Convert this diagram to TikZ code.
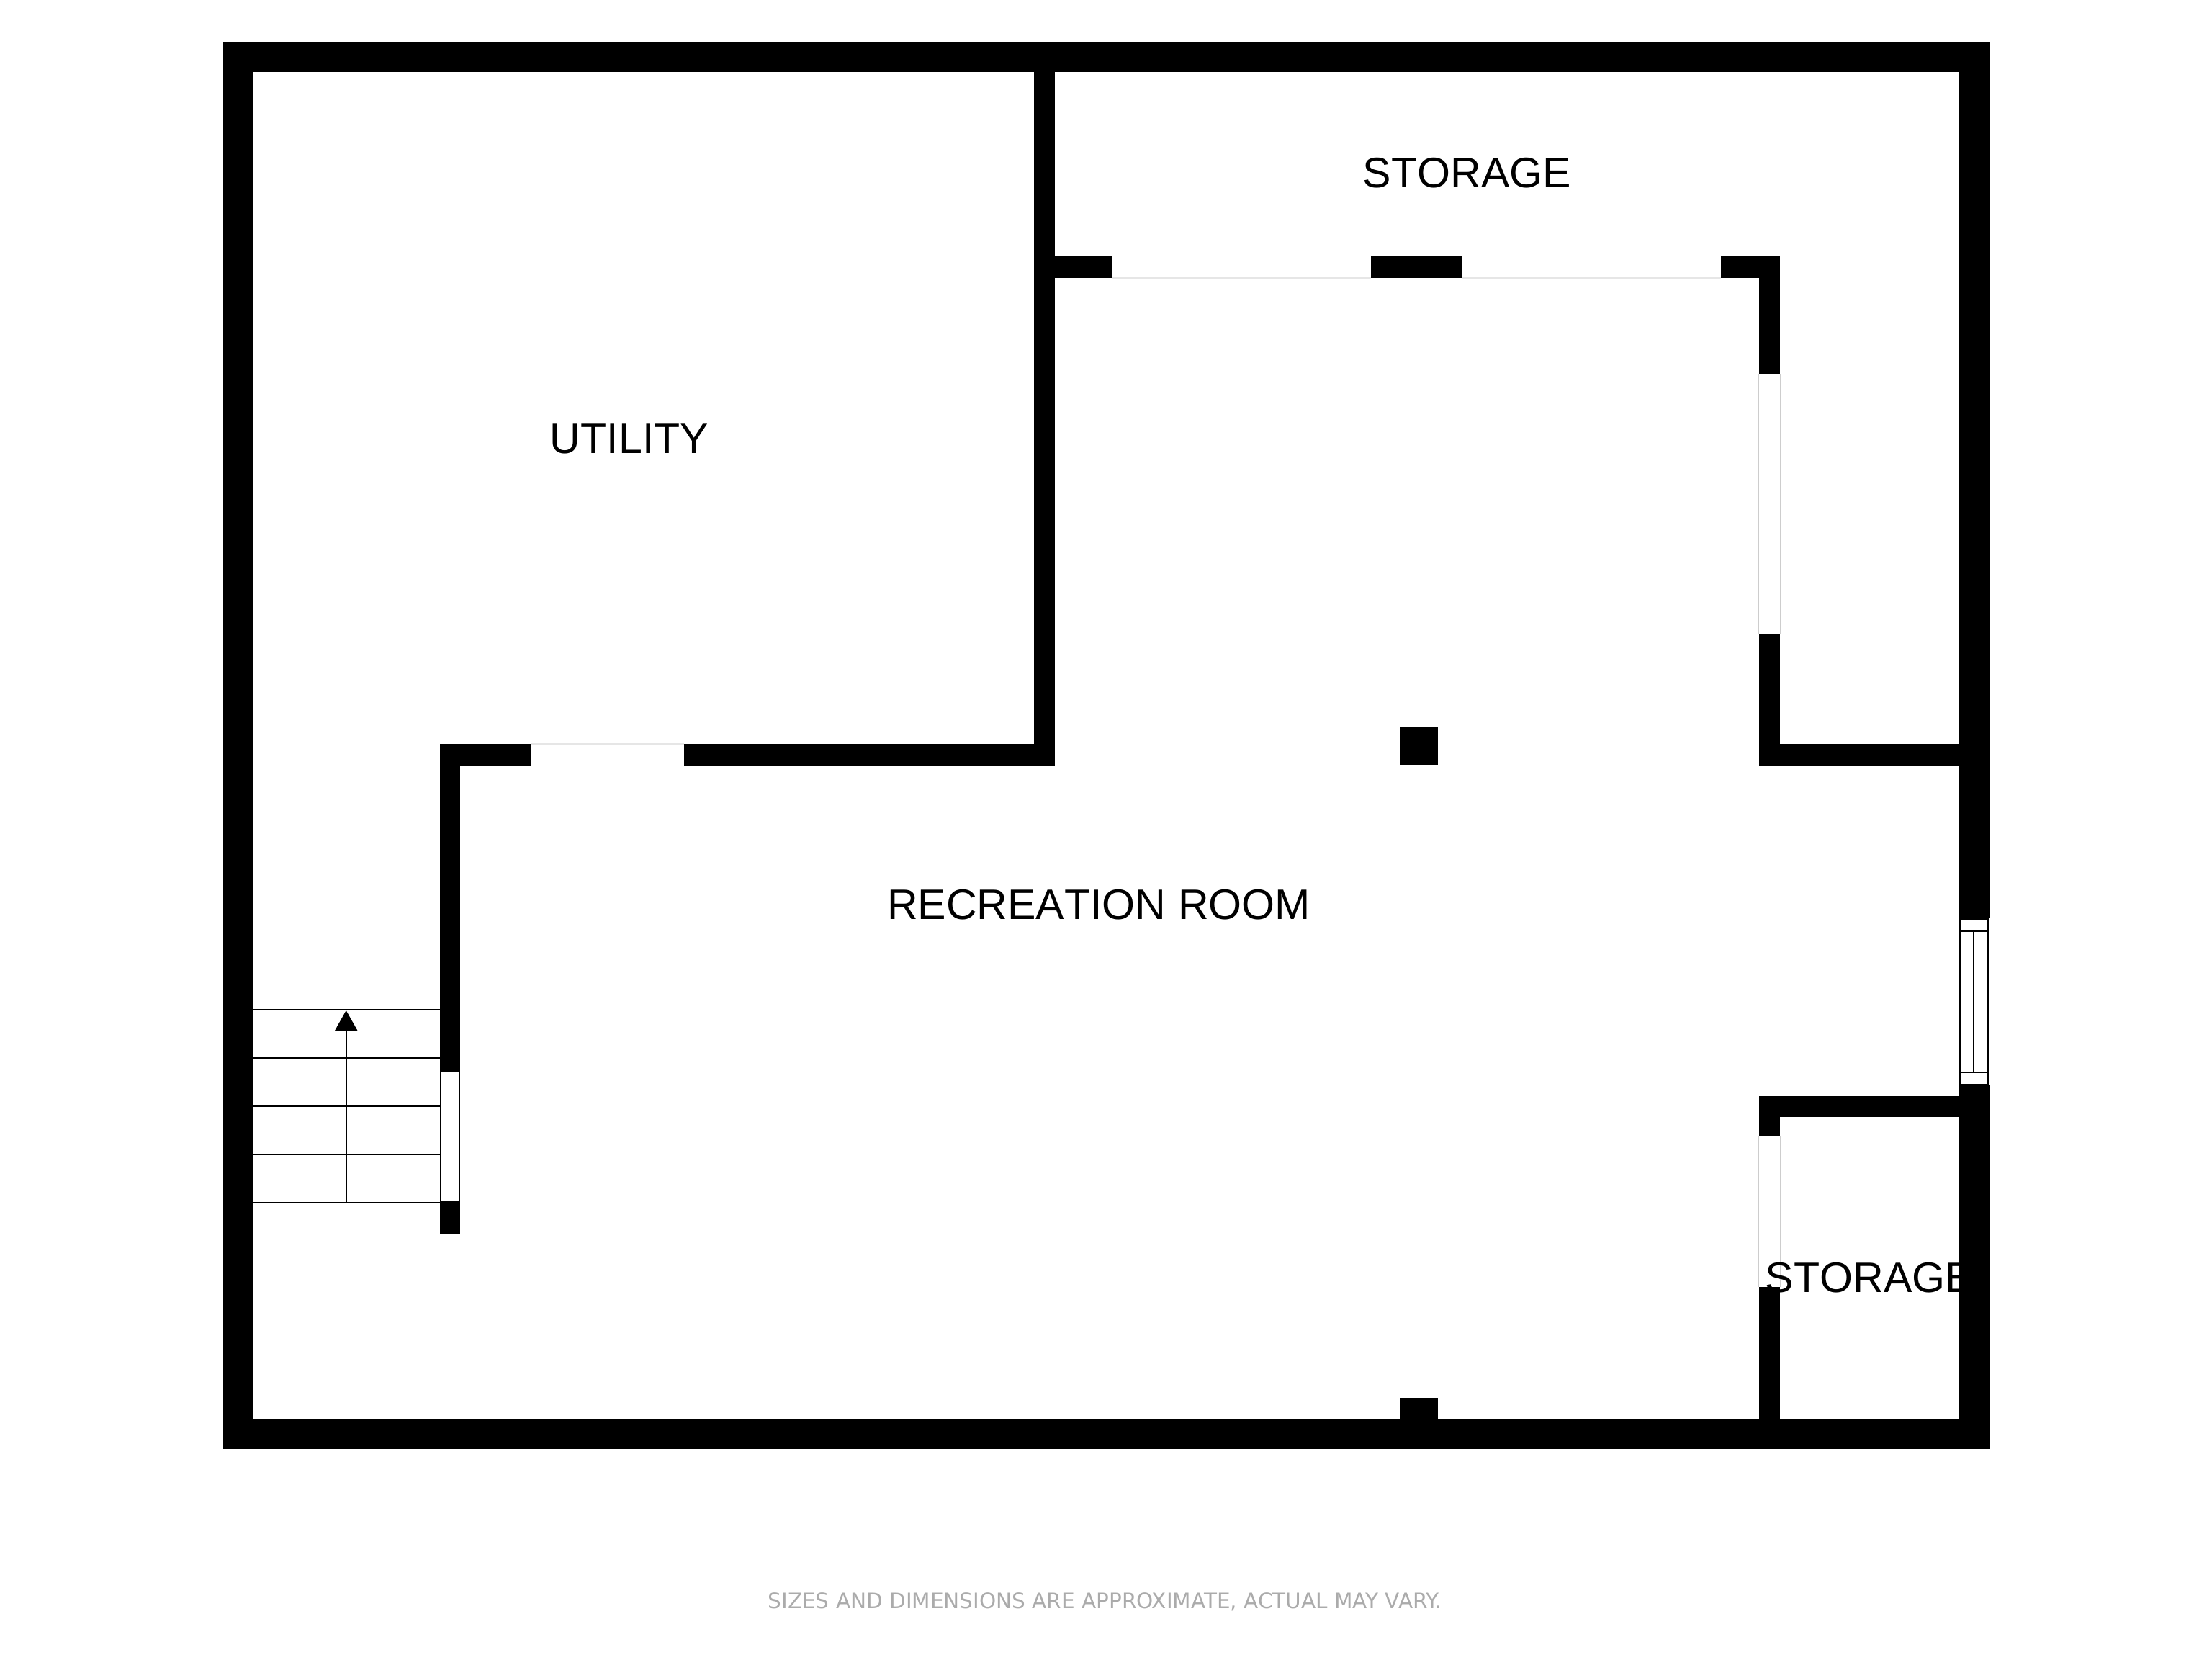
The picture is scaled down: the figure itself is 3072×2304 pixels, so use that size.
\documentclass[tikz,border=0pt]{standalone}
\usepackage{fontspec}
\setmainfont{Liberation Sans}[Kerning=Off]
\newfontfamily\notefont{DejaVu Sans}
\tikzset{
  x=0.25pt, y=-0.25pt,
  wall/.style={fill=black, draw=none},
  opening/.style={draw=#1, line width=0.4pt},
  frame/.style={draw=black, fill=white, line width=0.6pt},
  fine/.style={draw=black, line width=0.55pt},
  roomlabel/.style={inner sep=0pt, anchor=base, font=\fontsize{14.78pt}{16pt}\selectfont, text=black},
  notelabel/.style={inner sep=0pt, anchor=base, font=\notefont\fontsize{7.37pt}{8pt}\selectfont, text=noteGray},
}
\definecolor{noteGray}{HTML}{ABABAB}
\definecolor{edgeH}{HTML}{E6E6E6}
\definecolor{edgeV}{HTML}{CDCDCD}
\begin{document}
\begin{tikzpicture}
\fill[white] (0,0) rectangle (3072,2304);
\useasboundingbox (0,0) rectangle (3072,2304);
% openings without frames (light edges)
\draw[opening=edgeH] (1545,355.5) -- (1904,355.5) (1545,386) -- (1904,386);
\draw[opening=edgeH] (2031,355.5) -- (2390,355.5) (2031,386) -- (2390,386);
\draw[opening=edgeH] (738,1033) -- (950,1033) (738,1063.3) -- (950,1063.3);
\draw[opening=edgeV] (2442.5,520) -- (2442.5,881) (2472.8,520) -- (2472.8,881);
\draw[opening=edgeV] (2442.5,1577) -- (2442.5,1787) (2472.8,1577) -- (2472.8,1787);
% room labels (walls overlap them)
\node[roomlabel] (storageTop) at (2037.5,260.5) {STORAGE};
\node[roomlabel] (utility) at (874,629) {UTILITY};
\node[roomlabel] (rec) at (1526,1276.5) {RECREATION ROOM};
\node[roomlabel, anchor=base west] (storageLow) at (2451,1794) {STORAGE};
% outer walls
\fill[wall] (310,57.5) rectangle (2762.5,99.5);
\fill[wall] (310,1970) rectangle (2762.5,2012);
\fill[wall] (310,57.5) rectangle (351.5,2012);
\fill[wall] (2720.5,57.5) rectangle (2762.5,1275);
\fill[wall] (2720.5,1506) rectangle (2762.5,2012);
% inner walls
\fill[wall] (1436,57.5) rectangle (1465,1062.5);
\fill[wall] (1436,356) rectangle (1545,385.5);
\fill[wall] (1904,356) rectangle (2031,385.5);
\fill[wall] (2390,356) rectangle (2472.3,385.5);
\fill[wall] (2443,356) rectangle (2472.3,520);
\fill[wall] (2443,880) rectangle (2472.3,1062.5);
\fill[wall] (2443,1033.3) rectangle (2725,1062.5);
\fill[wall] (610.5,1033.3) rectangle (738,1062.5);
\fill[wall] (950,1033.3) rectangle (1465,1062.5);
\fill[wall] (610.5,1033.3) rectangle (639.3,1487);
\fill[wall] (610.5,1669) rectangle (639.3,1714);
\fill[wall] (2443,1522.3) rectangle (2725,1551.3);
\fill[wall] (2443,1522.3) rectangle (2472.3,1577.3);
\fill[wall] (2443,1787) rectangle (2472.3,2012);
% column and pilaster
\fill[wall] (1943.8,1009) rectangle (1997.3,1062.3);
\fill[wall] (1943.8,1941) rectangle (1997.3,2012);
% stairs
\draw[fine] (351.5,1402) -- (611,1402);
\draw[fine] (351.5,1469.3) -- (611,1469.3);
\draw[fine] (351.5,1536) -- (611,1536);
\draw[fine] (351.5,1602.7) -- (611,1602.7);
\draw[fine] (351.5,1670) -- (611,1670);
\draw[fine] (480.7,1670) -- (480.7,1430);
\fill[black] (480.7,1403) -- (496.5,1431) -- (465,1431) -- cycle;
% framed door by the stairs
\draw[frame] (612,1487) rectangle (638,1669.5);
% framed window on the right wall
\draw[frame] (2722,1275.5) rectangle (2760.5,1506.5);
\draw[fine] (2722,1293.3) -- (2760.5,1293.3);
\draw[fine] (2722,1488.7) -- (2760.5,1488.7);
\draw[fine] (2741.3,1293.3) -- (2741.3,1488.7);
% footer note
\node[notelabel] (note) at (1534.5,2233.5) {SIZES AND DIMENSIONS ARE APPROXIMATE, ACTUAL MAY VARY.};
\end{tikzpicture}
\end{document}
